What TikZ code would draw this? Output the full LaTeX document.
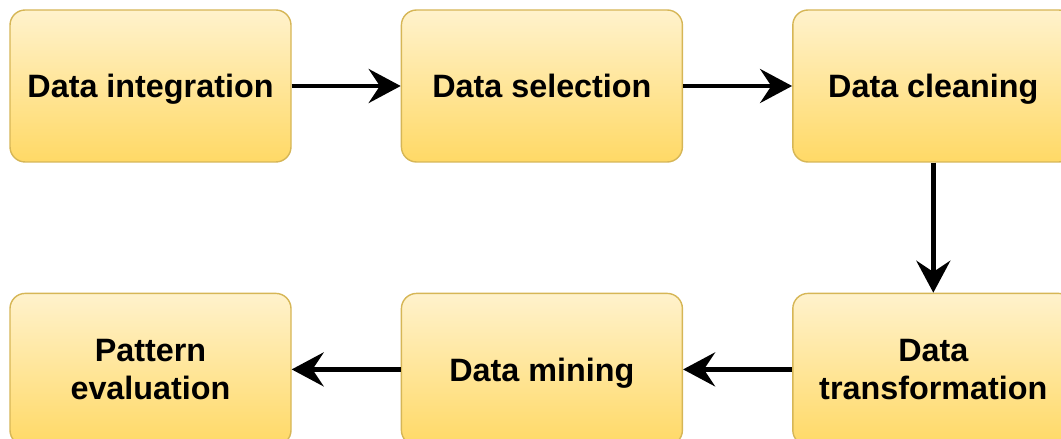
\documentclass[tikz,border=0pt]{standalone}
\usepackage{fontspec}
\setmainfont{Liberation Sans}
\usepackage{tikz}
\usetikzlibrary{
  arrows.meta,
  positioning
}
\definecolor{BoxTop}{HTML}{FFF2CC}
\definecolor{BoxBottom}{HTML}{FFD966}
\definecolor{BoxLine}{HTML}{D6B656}

\begin{document}
\begin{tikzpicture}[
    stage/.style={rectangle, rounded corners=0.38cm, draw=BoxLine, line width=1pt,
        top color=BoxTop, bottom color=BoxBottom, minimum width=7.025cm, minimum height=3.8cm,
        inner sep=0pt, align=center, font=\fontsize{23}{27}\selectfont\bfseries},
    oneline/.style={stage, text height=16.5pt, text depth=0pt},
    flow/.style={line width=0.11cm, -{Stealth[length=0.8cm, width=0.85cm, inset=0.28cm]}},
    node distance=2.725cm and 3.25cm
  ]
    \useasboundingbox (0,0) rectangle (26.525,-10.975);
    % top row
    \node[oneline] (integ) at (3.7625,-2.15) {Data integration};
    \node[oneline, right=2.725cm of integ] (select) {Data selection};
    \node[oneline, right=2.725cm of select] (clean) {Data cleaning};
    % bottom row
    \node[stage, below=3.25cm of clean] (transf) {Data\\transformation};
    \node[oneline, left=2.725cm of transf] (mining) {Data mining};
    \node[stage, left=2.725cm of mining] (pattern) {Pattern\\evaluation};
    \draw[flow] (integ) -- (select);
    \draw[flow] (select) -- (clean);
    \draw[flow] (clean) -- (transf);
    \draw[flow] (transf) -- (mining);
    \draw[flow] (mining) -- (pattern);
\end{tikzpicture}
\end{document}
